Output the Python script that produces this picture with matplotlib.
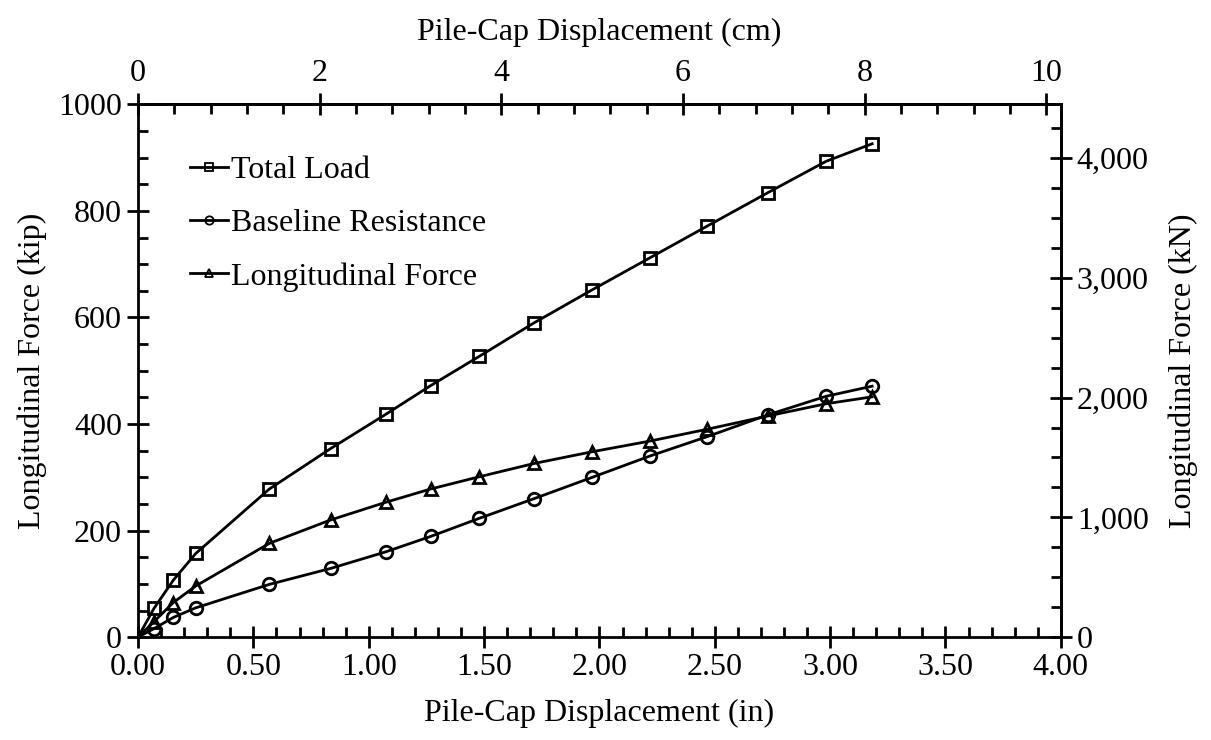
import matplotlib.pyplot as plt
from matplotlib.ticker import MultipleLocator, FuncFormatter

plt.rcParams['font.family'] = ['Liberation Serif', 'DejaVu Serif']
plt.rcParams['axes.linewidth'] = 2

# pile-cap displacement (in) and forces (kip)
disp = [0.0, 0.069, 0.153, 0.250, 0.569, 0.835, 1.073, 1.268, 1.479, 1.717,
        1.969, 2.219, 2.465, 2.729, 2.982, 3.182]
total_load = [0, 54, 107, 157, 278, 354, 418, 472, 527, 590,
              652, 712, 771, 834, 893, 926]
baseline = [0, 16, 37, 55, 99, 129, 160, 189, 223, 260,
            300, 340, 376, 417, 452, 471]
longitudinal = [0, 29, 65, 96, 176, 220, 253, 278, 301, 326,
                348, 368, 390, 415, 438, 451]

cm_ticks = [0, 2, 4, 6, 8, 10]
cm_minor = [i * 0.4 for i in range(26)]
kn_ticks = [0, 1000, 2000, 3000, 4000]
kn_minor = [i * 250 for i in range(18)]

KIP_TO_KN = 4.44822
IN_TO_CM = 2.54
FS = 23

fig, ax = plt.subplots(figsize=(12.11, 7.4), dpi=100)
fig.subplots_adjust(left=0.114, right=0.876, bottom=0.139, top=0.859)

mk = dict(color='black', lw=2, markerfacecolor='none', markeredgewidth=2,
          markersize=9, markevery=range(1, len(disp)))
ax.plot(disp, total_load, marker='s', label='Total Load', **mk)
ax.plot(disp, baseline, marker='o', label='Baseline Resistance', **mk)
ax.plot(disp, longitudinal, marker='^', label='Longitudinal Force', **mk)

ax.set_xlim(0, 4)
ax.set_ylim(0, 1000)
ax.xaxis.set_major_locator(MultipleLocator(0.5))
ax.xaxis.set_minor_locator(MultipleLocator(0.1))
ax.yaxis.set_major_locator(MultipleLocator(200))
ax.yaxis.set_minor_locator(MultipleLocator(50))
ax.xaxis.set_major_formatter(FuncFormatter(lambda v, p: f'{v:.2f}'))
ax.tick_params(which='major', direction='inout', length=16, width=2, labelsize=FS)
ax.tick_params(which='minor', direction='in', length=7, width=2)
ax.set_xlabel('Pile-Cap Displacement (in)', fontsize=FS, labelpad=12)
ax.set_ylabel('Longitudinal Force (kip)', fontsize=FS, labelpad=8)

top = ax.secondary_xaxis('top', functions=(lambda x: x * IN_TO_CM, lambda x: x / IN_TO_CM))
top.set_xticks(cm_ticks)
top.set_xticks([v for v in cm_minor if v not in cm_ticks], minor=True)
top.tick_params(which='major', direction='inout', length=16, width=2, labelsize=FS)
top.tick_params(which='minor', direction='in', length=7, width=2)
top.set_xlabel('Pile-Cap Displacement (cm)', fontsize=FS, labelpad=14)

right = ax.secondary_yaxis('right', functions=(lambda y: y * KIP_TO_KN, lambda y: y / KIP_TO_KN))
right.set_yticks(kn_ticks, [f'{v:,}' for v in kn_ticks])
right.set_yticks([v for v in kn_minor if v not in kn_ticks], minor=True)
right.tick_params(which='major', direction='inout', length=16, width=2, labelsize=FS)
right.tick_params(which='minor', direction='in', length=7, width=2)
right.set_ylabel('Longitudinal Force (kN)', fontsize=FS, labelpad=14)

leg = ax.legend(loc='upper left', bbox_to_anchor=(0.025, 0.957), frameon=False, fontsize=FS,
                handlelength=1.2, handletextpad=0.1, labelspacing=0.74)
for h in leg.legend_handles:
    h.set_markersize(6)
    h.set_markeredgewidth(1.3)

plt.savefig('out.png')
